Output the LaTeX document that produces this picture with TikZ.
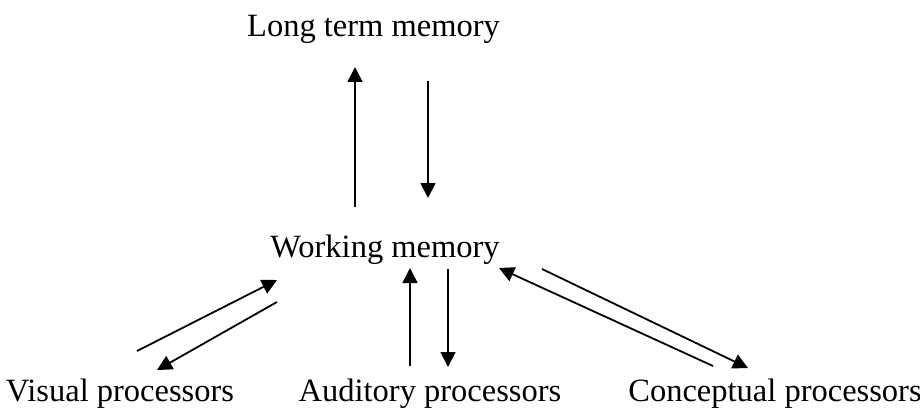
\documentclass[tikz,border=0pt]{standalone}
\usepackage{fontspec}
\setmainfont{Liberation Serif}
\usetikzlibrary{arrows.meta}
\begin{document}
\begin{tikzpicture}[x=1pt,y=-1pt,
  lbl/.style={anchor=base,inner sep=0pt,font=\fontsize{32.5}{39}\selectfont},
  arr/.style={line width=1.8pt,-{Triangle[length=15pt,width=15pt]}}]
\useasboundingbox (0,0) rectangle (920,409);
\node[lbl] (ltm) at (373.5,37) {Long term memory};
\node[lbl] (wm) at (385,257) {Working memory};
\node[lbl] (vis) at (120,401) {Visual processors};
\node[lbl] (aud) at (430,401) {Auditory processors};
\node[lbl] (con) at (775,401) {Conceptual processors};
% endpoints
\coordinate (a1s) at (355,207); \coordinate (a1e) at (355,67);
\coordinate (a2s) at (428,81);  \coordinate (a2e) at (428,198);
\coordinate (v1s) at (137,351); \coordinate (v1e) at (277,280);
\coordinate (v2s) at (277,302); \coordinate (v2e) at (157,370);
\coordinate (u1s) at (410,366); \coordinate (u1e) at (410,268);
\coordinate (u2s) at (448,269); \coordinate (u2e) at (448,367);
\coordinate (c1s) at (713,366); \coordinate (c1e) at (499,268);
\coordinate (c2s) at (542,269); \coordinate (c2e) at (748,368);
\draw[arr] (a1s) -- (a1e);
\draw[arr] (a2s) -- (a2e);
\draw[arr] (v1s) -- (v1e);
\draw[arr] (v2s) -- (v2e);
\draw[arr] (u1s) -- (u1e);
\draw[arr] (u2s) -- (u2e);
\draw[arr] (c1s) -- (c1e);
\draw[arr] (c2s) -- (c2e);
\end{tikzpicture}
\end{document}
